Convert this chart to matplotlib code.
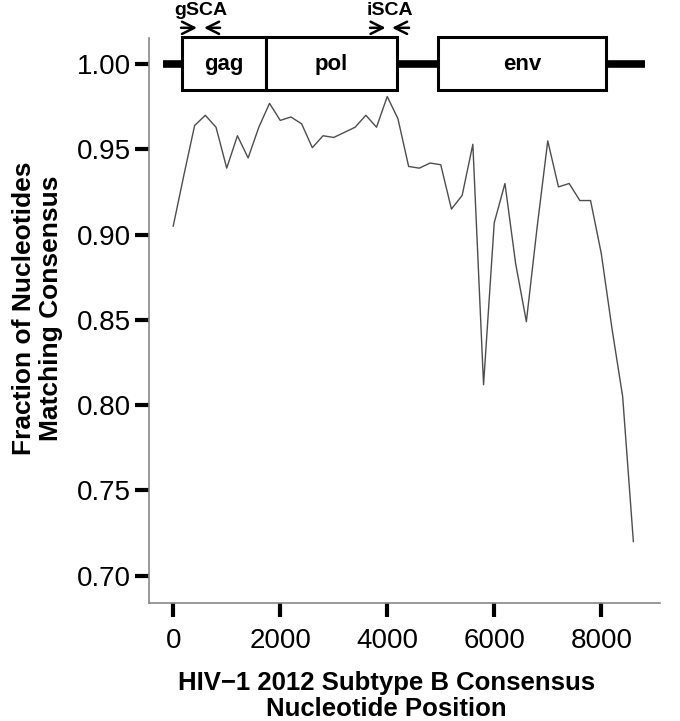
import numpy as np
import matplotlib
matplotlib.use("Agg")
import matplotlib.pyplot as plt
from matplotlib.patches import Rectangle

plt.rcParams['font.family'] = ['Liberation Sans', 'DejaVu Sans']

# nucleotide position (HIV-1 2012 subtype B consensus) and fraction matching
position = [0, 200, 400, 600, 800, 1000, 1200, 1400, 1600, 1800,
            2000, 2200, 2400, 2600, 2800, 3000, 3200, 3400, 3600, 3800,
            4000, 4200, 4400, 4600, 4800, 5000, 5200, 5400, 5600, 5800,
            6000, 6200, 6400, 6600, 6800, 7000, 7200, 7400, 7600, 7800,
            8000, 8200, 8400, 8600]
fraction = [0.905, 0.935, 0.964, 0.970, 0.963, 0.939, 0.958, 0.945, 0.963, 0.977,
            0.967, 0.969, 0.965, 0.951, 0.958, 0.957, 0.960, 0.963, 0.970, 0.963,
            0.981, 0.968, 0.940, 0.939, 0.942, 0.941, 0.915, 0.923, 0.953, 0.812,
            0.907, 0.930, 0.883, 0.849, 0.904, 0.955, 0.928, 0.930, 0.920, 0.920,
            0.889, 0.845, 0.805, 0.720]

# genome map (start, end, label)
genes = [(162, 1733, 'gag'), (1733, 4183, 'pol'), (4950, 8092, 'env')]
backbone = (-193, 8821)
# primer pairs: (forward start, forward end, reverse start, reverse end, label)
primers = [(146, 445, 875, 576, 'gSCA'), (3677, 3969, 4408, 4090, 'iSCA')]

fig = plt.figure(figsize=(6.8, 7.21), dpi=100)
ax = fig.add_axes([0.219, 0.1637, 0.752, 0.7833])

ax.plot(position, fraction, color='#4d4d4d', lw=1.0)

# genome map drawn at y = 1.00
ax.plot(backbone, [1.0, 1.0], color='black', lw=5.5, solid_capstyle='butt',
        clip_on=False, zorder=3)
box_lo, box_hi = 0.9848, 1.0158
for start, end, name in genes:
    ax.add_patch(Rectangle((start, box_lo), end - start, box_hi - box_lo,
                           facecolor='white', edgecolor='black', lw=2.2,
                           clip_on=False, zorder=4))
    ax.text((start + end) / 2, 1.0, name, ha='center', va='center',
            fontsize=16, fontweight='bold', zorder=5)

# primer arrows above the map
arrow_y = 1.0213
for f0, f1, r0, r1, name in primers:
    for a, b in [(f0, f1), (r0, r1)]:
        ax.annotate('', xy=(b, arrow_y), xytext=(a, arrow_y),
                    arrowprops=dict(arrowstyle='->', lw=1.8, color='black',
                                    mutation_scale=22, shrinkA=0, shrinkB=0),
                    annotation_clip=False)
    ax.text((f0 + r0) / 2, 1.0317, name, ha='center', va='center',
            fontsize=14, fontweight='bold', clip_on=False)

ax.set_xlim(-454, 9103)
ax.set_ylim(0.684, 1.0152)
ax.set_xticks([0, 2000, 4000, 6000, 8000])
ax.set_yticks([0.70, 0.75, 0.80, 0.85, 0.90, 0.95, 1.00])
ax.set_yticklabels(['0.70', '0.75', '0.80', '0.85', '0.90', '0.95', '1.00'])
ax.tick_params(axis='both', length=10, width=3, labelsize=20, color='black')
ax.tick_params(axis='x', pad=8)
ax.tick_params(axis='y', pad=3)

for side in ['top', 'right']:
    ax.spines[side].set_visible(False)
for side in ['left', 'bottom']:
    ax.spines[side].set_color('#888888')
    ax.spines[side].set_linewidth(1.2)

ax.set_xlabel('HIV\u22121 2012 Subtype B Consensus\nNucleotide Position',
              fontsize=18.5, fontweight='bold', labelpad=12, linespacing=1.1)
ax.xaxis.label.set_x(0.464)
ax.set_ylabel('Fraction of Nucleotides\nMatching Consensus',
              fontsize=19, fontweight='bold', labelpad=10, linespacing=1.15)
ax.yaxis.label.set_y(0.522)

fig.savefig('out.png', dpi=100)
